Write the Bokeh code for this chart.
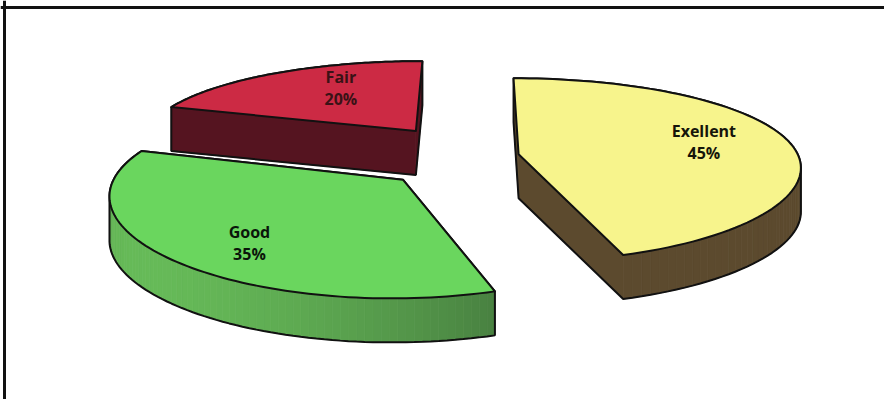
import numpy as np
from bokeh.plotting import figure
from bokeh.models import Range1d, Span
from bokeh.embed import file_html
from bokeh.resources import INLINE
from bokeh.core.properties import value

# ---------------- data ----------------
categories = ["Exellent", "Good", "Fair"]
shares = [45, 35, 20]
pct_labels = ["45%", "35%", "20%"]
explode = [0.16, 0.35, 0.37]          # explosion of each slice (fraction of radius)

# ---------------- styles ----------------
top_colors = ["#F7F48C", "#6AD65E", "#CC2A44"]
side_light = ["#5C4A2E", "#66BA58", "#551420"]
side_dark = ["#5C4A2E", "#3B6636", "#551420"]
text_colors = ["#15150a", "#0a160a", "#3a1216"]
label_nudge = [(9, -3), (-7, 14), (18, -4)]

# ---------------- projection (layout) ----------------
W, HGT = 884, 399
CX, CY = 474.0, 156.0
S, A = 280.0, 0.32
KX, KY = 0.13, 0.17
THICK = 44.0
LIGHT = np.array([-0.8, 0.6])


def proj(X, Y):
    X = np.asarray(X, dtype=float)
    Y = np.asarray(Y, dtype=float)
    return CX + S * X / (1.0 - KX * Y), CY + S * A * Y / (1.0 - KY * Y)


def signed_area(xs, ys):
    xs = np.asarray(xs); ys = np.asarray(ys)
    return 0.5 * np.sum(xs * np.roll(ys, -1) - np.roll(xs, -1) * ys)


def hull(pts):
    pts = sorted(set(map(tuple, pts)))
    def cross(o, a, b):
        return (a[0] - o[0]) * (b[1] - o[1]) - (a[1] - o[1]) * (b[0] - o[0])
    lower, upper = [], []
    for p in pts:
        while len(lower) >= 2 and cross(lower[-2], lower[-1], p) <= 0:
            lower.pop()
        lower.append(p)
    for p in reversed(pts):
        while len(upper) >= 2 and cross(upper[-2], upper[-1], p) <= 0:
            upper.pop()
        upper.append(p)
    return lower[:-1] + upper[:-1]


def mix(c1, c2, t):
    a = np.array([int(c1[i:i + 2], 16) for i in (1, 3, 5)], float)
    b = np.array([int(c2[i:i + 2], 16) for i in (1, 3, 5)], float)
    c = a + (b - a) * t
    return "#%02x%02x%02x" % tuple(int(round(v)) for v in c)


p = figure(width=W, height=HGT, x_range=Range1d(0, W), y_range=Range1d(HGT, 0),
           output_backend="svg", toolbar_location=None, min_border=0)
p.axis.visible = False
p.grid.visible = False
p.outline_line_color = None
p.background_fill_color = "white"
p.border_fill_color = "white"

total = float(sum(shares))
bounds = np.concatenate([[0.0], np.cumsum(shares)]) / total * 2 * np.pi

slices = []
for i in range(len(shares)):
    t0, t1 = bounds[i], bounds[i + 1]
    mid = 0.5 * (t0 + t1)
    cxw = explode[i] * np.sin(mid)
    cyw = -explode[i] * np.cos(mid)
    slices.append((cyw, i, t0, t1, mid, cxw))

# draw back to front
for cyw, i, t0, t1, mid, cxw in sorted(slices):
    th = np.linspace(t0, t1, 90)
    wx = np.concatenate([[cxw], cxw + np.sin(th)])
    wy = np.concatenate([[cyw], cyw - np.cos(th)])
    n = len(wx)
    sx, sy = proj(wx, wy)
    top_sign = np.sign(signed_area(sx, sy))
    fxs, fys, fcol = [], [], []
    for k in range(n):
        k2 = (k + 1) % n
        qx = [sx[k2], sx[k], sx[k], sx[k2]]
        qy = [sy[k2], sy[k], sy[k] + THICK, sy[k2] + THICK]
        if np.sign(signed_area(qx, qy)) != top_sign:
            continue
        ex, ey = wx[k2] - wx[k], wy[k2] - wy[k]
        nrm = np.array([ey, -ex])
        nrm = nrm / (np.hypot(*nrm) + 1e-12)
        mxw, myw = 0.5 * (wx[k] + wx[k2]) - cxw, 0.5 * (wy[k] + wy[k2]) - cyw
        if nrm @ np.array([mxw, myw]) < 0:
            nrm = -nrm
        f = max(0.0, float(nrm @ LIGHT))
        fxs.append(qx); fys.append(qy)
        fcol.append(mix(side_dark[i], side_light[i], f))
    if fxs:
        p.patches(fxs, fys, fill_color=fcol, line_color=fcol, line_width=0.8)
    hp = hull(list(zip(sx, sy)) + list(zip(sx, sy + THICK)))
    p.patch([q[0] for q in hp], [q[1] for q in hp], fill_color=None,
            line_color="#111111", line_width=2)
    p.patch(sx, sy, fill_color=top_colors[i], line_color="#111111", line_width=2,
            line_join="round")

    # label
    r = 0.65
    lx, ly = proj(cxw + r * np.sin(mid), cyw - r * np.cos(mid))
    lx = float(lx) + label_nudge[i][0]
    ly = float(ly) + label_nudge[i][1]
    p.text(x=[lx, lx], y=[ly - 11, ly + 11], text=[categories[i], pct_labels[i]],
           text_align="center", text_baseline="middle",
           text_font=value("Open Sans"), text_font_style="bold",
           text_font_size="16px", text_color=text_colors[i])

p.add_layout(Span(location=7, dimension="width", line_color="#111111", line_width=3))
p.add_layout(Span(location=4, dimension="height", line_color="#111111", line_width=3))

open("out.html", "w").write(file_html(p, INLINE))
